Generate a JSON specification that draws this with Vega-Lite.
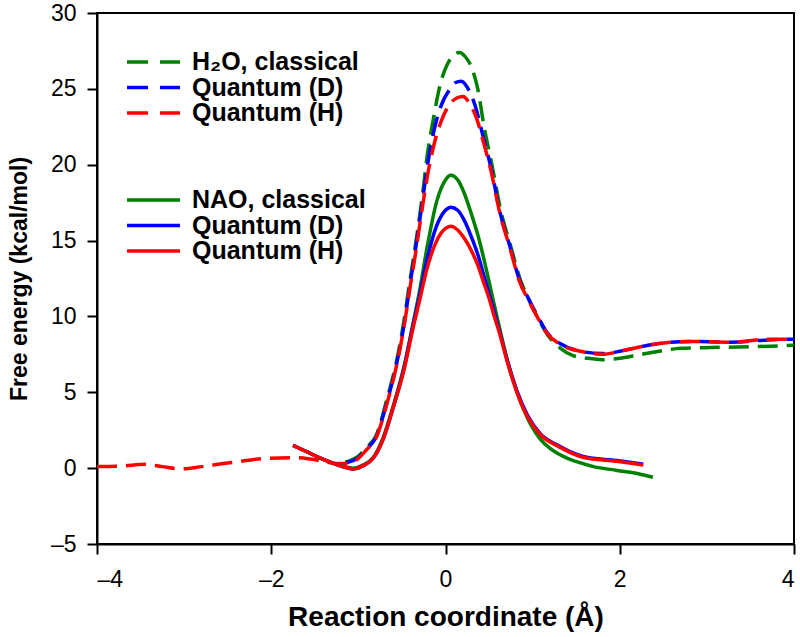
{
  "$schema": "https://vega.github.io/schema/vega-lite/v6.json",
  "width": 697,
  "height": 531,
  "autosize": "none",
  "padding": {"left": 97, "top": 13, "right": 6, "bottom": 93},
  "background": "white",
  "config": {
    "view": {"stroke": "black", "strokeWidth": 2},
    "font": "Liberation Sans",
    "axis": {
      "grid": false,
      "domainColor": "black",
      "domainWidth": 2,
      "tickColor": "black",
      "tickWidth": 2,
      "tickSize": 10,
      "labelFont": "Liberation Sans",
      "labelFontSize": 23,
      "labelColor": "black",
      "titleFont": "Liberation Sans",
      "titleFontWeight": "bold",
      "titleColor": "black"
    }
  },
  "data": {
    "values": [
      {"series": "H2O_C", "group": "H2O", "label": "H₂O, classical", "x": -1.15, "y": 0.4},
      {"series": "H2O_C", "group": "H2O", "label": "H₂O, classical", "x": -1.0, "y": 0.8},
      {"series": "H2O_C", "group": "H2O", "label": "H₂O, classical", "x": -0.9, "y": 1.4},
      {"series": "H2O_C", "group": "H2O", "label": "H₂O, classical", "x": -0.8, "y": 2.1},
      {"series": "H2O_C", "group": "H2O", "label": "H₂O, classical", "x": -0.67, "y": 4.6},
      {"series": "H2O_C", "group": "H2O", "label": "H₂O, classical", "x": -0.56, "y": 7.1},
      {"series": "H2O_C", "group": "H2O", "label": "H₂O, classical", "x": -0.48, "y": 9.6},
      {"series": "H2O_C", "group": "H2O", "label": "H₂O, classical", "x": -0.41, "y": 12.3},
      {"series": "H2O_C", "group": "H2O", "label": "H₂O, classical", "x": -0.34, "y": 14.9},
      {"series": "H2O_C", "group": "H2O", "label": "H₂O, classical", "x": -0.26, "y": 18.2},
      {"series": "H2O_C", "group": "H2O", "label": "H₂O, classical", "x": -0.21, "y": 20.6},
      {"series": "H2O_C", "group": "H2O", "label": "H₂O, classical", "x": -0.14, "y": 23.0},
      {"series": "H2O_C", "group": "H2O", "label": "H₂O, classical", "x": -0.06, "y": 25.3},
      {"series": "H2O_C", "group": "H2O", "label": "H₂O, classical", "x": 0.02, "y": 26.6},
      {"series": "H2O_C", "group": "H2O", "label": "H₂O, classical", "x": 0.09, "y": 27.2},
      {"series": "H2O_C", "group": "H2O", "label": "H₂O, classical", "x": 0.16, "y": 27.4},
      {"series": "H2O_C", "group": "H2O", "label": "H₂O, classical", "x": 0.23, "y": 27.1},
      {"series": "H2O_C", "group": "H2O", "label": "H₂O, classical", "x": 0.3, "y": 26.4},
      {"series": "H2O_C", "group": "H2O", "label": "H₂O, classical", "x": 0.37, "y": 25.0},
      {"series": "H2O_C", "group": "H2O", "label": "H₂O, classical", "x": 0.44, "y": 22.6},
      {"series": "H2O_C", "group": "H2O", "label": "H₂O, classical", "x": 0.54, "y": 19.8},
      {"series": "H2O_C", "group": "H2O", "label": "H₂O, classical", "x": 0.63, "y": 17.1},
      {"series": "H2O_C", "group": "H2O", "label": "H₂O, classical", "x": 0.75, "y": 14.6},
      {"series": "H2O_C", "group": "H2O", "label": "H₂O, classical", "x": 0.86, "y": 12.4},
      {"series": "H2O_C", "group": "H2O", "label": "H₂O, classical", "x": 0.95, "y": 11.2},
      {"series": "H2O_C", "group": "H2O", "label": "H₂O, classical", "x": 1.05, "y": 10.0},
      {"series": "H2O_C", "group": "H2O", "label": "H₂O, classical", "x": 1.17, "y": 8.8},
      {"series": "H2O_C", "group": "H2O", "label": "H₂O, classical", "x": 1.32, "y": 7.9},
      {"series": "H2O_C", "group": "H2O", "label": "H₂O, classical", "x": 1.47, "y": 7.4},
      {"series": "H2O_C", "group": "H2O", "label": "H₂O, classical", "x": 1.62, "y": 7.25},
      {"series": "H2O_C", "group": "H2O", "label": "H₂O, classical", "x": 1.8, "y": 7.15},
      {"series": "H2O_C", "group": "H2O", "label": "H₂O, classical", "x": 2.0, "y": 7.25},
      {"series": "H2O_C", "group": "H2O", "label": "H₂O, classical", "x": 2.2, "y": 7.45},
      {"series": "H2O_C", "group": "H2O", "label": "H₂O, classical", "x": 2.45, "y": 7.7},
      {"series": "H2O_C", "group": "H2O", "label": "H₂O, classical", "x": 2.7, "y": 7.9},
      {"series": "H2O_C", "group": "H2O", "label": "H₂O, classical", "x": 3.05, "y": 7.95},
      {"series": "H2O_C", "group": "H2O", "label": "H₂O, classical", "x": 3.5, "y": 8.0},
      {"series": "H2O_C", "group": "H2O", "label": "H₂O, classical", "x": 4.0, "y": 8.1},

      {"series": "H2O_D", "group": "H2O", "label": "Quantum (D)", "x": -1.15, "y": 0.35},
      {"series": "H2O_D", "group": "H2O", "label": "Quantum (D)", "x": -1.0, "y": 0.7},
      {"series": "H2O_D", "group": "H2O", "label": "Quantum (D)", "x": -0.9, "y": 1.3},
      {"series": "H2O_D", "group": "H2O", "label": "Quantum (D)", "x": -0.8, "y": 2.0},
      {"series": "H2O_D", "group": "H2O", "label": "Quantum (D)", "x": -0.67, "y": 4.4},
      {"series": "H2O_D", "group": "H2O", "label": "Quantum (D)", "x": -0.56, "y": 6.9},
      {"series": "H2O_D", "group": "H2O", "label": "Quantum (D)", "x": -0.48, "y": 9.3},
      {"series": "H2O_D", "group": "H2O", "label": "Quantum (D)", "x": -0.41, "y": 12.0},
      {"series": "H2O_D", "group": "H2O", "label": "Quantum (D)", "x": -0.34, "y": 14.6},
      {"series": "H2O_D", "group": "H2O", "label": "Quantum (D)", "x": -0.26, "y": 17.8},
      {"series": "H2O_D", "group": "H2O", "label": "Quantum (D)", "x": -0.2, "y": 20.2},
      {"series": "H2O_D", "group": "H2O", "label": "Quantum (D)", "x": -0.13, "y": 22.3},
      {"series": "H2O_D", "group": "H2O", "label": "Quantum (D)", "x": -0.05, "y": 23.9},
      {"series": "H2O_D", "group": "H2O", "label": "Quantum (D)", "x": 0.04, "y": 24.9},
      {"series": "H2O_D", "group": "H2O", "label": "Quantum (D)", "x": 0.11, "y": 25.4},
      {"series": "H2O_D", "group": "H2O", "label": "Quantum (D)", "x": 0.18, "y": 25.5},
      {"series": "H2O_D", "group": "H2O", "label": "Quantum (D)", "x": 0.26, "y": 25.0},
      {"series": "H2O_D", "group": "H2O", "label": "Quantum (D)", "x": 0.34, "y": 23.9},
      {"series": "H2O_D", "group": "H2O", "label": "Quantum (D)", "x": 0.43, "y": 21.9},
      {"series": "H2O_D", "group": "H2O", "label": "Quantum (D)", "x": 0.53, "y": 19.6},
      {"series": "H2O_D", "group": "H2O", "label": "Quantum (D)", "x": 0.62, "y": 17.0},
      {"series": "H2O_D", "group": "H2O", "label": "Quantum (D)", "x": 0.74, "y": 14.6},
      {"series": "H2O_D", "group": "H2O", "label": "Quantum (D)", "x": 0.85, "y": 12.4},
      {"series": "H2O_D", "group": "H2O", "label": "Quantum (D)", "x": 0.95, "y": 11.2},
      {"series": "H2O_D", "group": "H2O", "label": "Quantum (D)", "x": 1.05, "y": 10.1},
      {"series": "H2O_D", "group": "H2O", "label": "Quantum (D)", "x": 1.17, "y": 8.9},
      {"series": "H2O_D", "group": "H2O", "label": "Quantum (D)", "x": 1.32, "y": 8.2},
      {"series": "H2O_D", "group": "H2O", "label": "Quantum (D)", "x": 1.55, "y": 7.7},
      {"series": "H2O_D", "group": "H2O", "label": "Quantum (D)", "x": 1.8, "y": 7.55},
      {"series": "H2O_D", "group": "H2O", "label": "Quantum (D)", "x": 2.0, "y": 7.7},
      {"series": "H2O_D", "group": "H2O", "label": "Quantum (D)", "x": 2.2, "y": 7.95},
      {"series": "H2O_D", "group": "H2O", "label": "Quantum (D)", "x": 2.43, "y": 8.2},
      {"series": "H2O_D", "group": "H2O", "label": "Quantum (D)", "x": 2.8, "y": 8.35},
      {"series": "H2O_D", "group": "H2O", "label": "Quantum (D)", "x": 3.27, "y": 8.3},
      {"series": "H2O_D", "group": "H2O", "label": "Quantum (D)", "x": 3.7, "y": 8.45},
      {"series": "H2O_D", "group": "H2O", "label": "Quantum (D)", "x": 4.0, "y": 8.5},

      {"series": "H2O_H", "group": "H2O", "label": "Quantum (H)", "x": -4.0, "y": 0.1},
      {"series": "H2O_H", "group": "H2O", "label": "Quantum (H)", "x": -3.7, "y": 0.15},
      {"series": "H2O_H", "group": "H2O", "label": "Quantum (H)", "x": -3.45, "y": 0.25},
      {"series": "H2O_H", "group": "H2O", "label": "Quantum (H)", "x": -3.25, "y": 0.1},
      {"series": "H2O_H", "group": "H2O", "label": "Quantum (H)", "x": -3.05, "y": -0.05},
      {"series": "H2O_H", "group": "H2O", "label": "Quantum (H)", "x": -2.8, "y": 0.1},
      {"series": "H2O_H", "group": "H2O", "label": "Quantum (H)", "x": -2.55, "y": 0.3},
      {"series": "H2O_H", "group": "H2O", "label": "Quantum (H)", "x": -2.35, "y": 0.45},
      {"series": "H2O_H", "group": "H2O", "label": "Quantum (H)", "x": -2.05, "y": 0.65},
      {"series": "H2O_H", "group": "H2O", "label": "Quantum (H)", "x": -1.7, "y": 0.68},
      {"series": "H2O_H", "group": "H2O", "label": "Quantum (H)", "x": -1.55, "y": 0.6},
      {"series": "H2O_H", "group": "H2O", "label": "Quantum (H)", "x": -1.4, "y": 0.45},
      {"series": "H2O_H", "group": "H2O", "label": "Quantum (H)", "x": -1.25, "y": 0.3},
      {"series": "H2O_H", "group": "H2O", "label": "Quantum (H)", "x": -1.12, "y": 0.3},
      {"series": "H2O_H", "group": "H2O", "label": "Quantum (H)", "x": -1.0, "y": 0.65},
      {"series": "H2O_H", "group": "H2O", "label": "Quantum (H)", "x": -0.9, "y": 1.25},
      {"series": "H2O_H", "group": "H2O", "label": "Quantum (H)", "x": -0.8, "y": 1.95},
      {"series": "H2O_H", "group": "H2O", "label": "Quantum (H)", "x": -0.67, "y": 4.3},
      {"series": "H2O_H", "group": "H2O", "label": "Quantum (H)", "x": -0.56, "y": 6.8},
      {"series": "H2O_H", "group": "H2O", "label": "Quantum (H)", "x": -0.48, "y": 9.2},
      {"series": "H2O_H", "group": "H2O", "label": "Quantum (H)", "x": -0.41, "y": 11.8},
      {"series": "H2O_H", "group": "H2O", "label": "Quantum (H)", "x": -0.34, "y": 14.3},
      {"series": "H2O_H", "group": "H2O", "label": "Quantum (H)", "x": -0.26, "y": 17.4},
      {"series": "H2O_H", "group": "H2O", "label": "Quantum (H)", "x": -0.19, "y": 19.8},
      {"series": "H2O_H", "group": "H2O", "label": "Quantum (H)", "x": -0.12, "y": 21.6},
      {"series": "H2O_H", "group": "H2O", "label": "Quantum (H)", "x": -0.04, "y": 23.0},
      {"series": "H2O_H", "group": "H2O", "label": "Quantum (H)", "x": 0.05, "y": 24.0},
      {"series": "H2O_H", "group": "H2O", "label": "Quantum (H)", "x": 0.13, "y": 24.4},
      {"series": "H2O_H", "group": "H2O", "label": "Quantum (H)", "x": 0.2, "y": 24.5},
      {"series": "H2O_H", "group": "H2O", "label": "Quantum (H)", "x": 0.28, "y": 24.0},
      {"series": "H2O_H", "group": "H2O", "label": "Quantum (H)", "x": 0.36, "y": 23.0},
      {"series": "H2O_H", "group": "H2O", "label": "Quantum (H)", "x": 0.44, "y": 21.4},
      {"series": "H2O_H", "group": "H2O", "label": "Quantum (H)", "x": 0.53, "y": 19.4},
      {"series": "H2O_H", "group": "H2O", "label": "Quantum (H)", "x": 0.62, "y": 16.9},
      {"series": "H2O_H", "group": "H2O", "label": "Quantum (H)", "x": 0.74, "y": 14.5},
      {"series": "H2O_H", "group": "H2O", "label": "Quantum (H)", "x": 0.85, "y": 12.3},
      {"series": "H2O_H", "group": "H2O", "label": "Quantum (H)", "x": 0.95, "y": 11.1},
      {"series": "H2O_H", "group": "H2O", "label": "Quantum (H)", "x": 1.05, "y": 10.0},
      {"series": "H2O_H", "group": "H2O", "label": "Quantum (H)", "x": 1.17, "y": 8.85},
      {"series": "H2O_H", "group": "H2O", "label": "Quantum (H)", "x": 1.32, "y": 8.15},
      {"series": "H2O_H", "group": "H2O", "label": "Quantum (H)", "x": 1.55, "y": 7.7},
      {"series": "H2O_H", "group": "H2O", "label": "Quantum (H)", "x": 1.8, "y": 7.5},
      {"series": "H2O_H", "group": "H2O", "label": "Quantum (H)", "x": 2.0, "y": 7.7},
      {"series": "H2O_H", "group": "H2O", "label": "Quantum (H)", "x": 2.2, "y": 7.95},
      {"series": "H2O_H", "group": "H2O", "label": "Quantum (H)", "x": 2.43, "y": 8.2},
      {"series": "H2O_H", "group": "H2O", "label": "Quantum (H)", "x": 2.8, "y": 8.35},
      {"series": "H2O_H", "group": "H2O", "label": "Quantum (H)", "x": 3.27, "y": 8.3},
      {"series": "H2O_H", "group": "H2O", "label": "Quantum (H)", "x": 3.7, "y": 8.5},
      {"series": "H2O_H", "group": "H2O", "label": "Quantum (H)", "x": 4.0, "y": 8.5},

      {"series": "NAO_C", "group": "NAO", "label": "NAO, classical", "x": -1.75, "y": 1.5},
      {"series": "NAO_C", "group": "NAO", "label": "NAO, classical", "x": -1.6, "y": 1.1},
      {"series": "NAO_C", "group": "NAO", "label": "NAO, classical", "x": -1.45, "y": 0.7},
      {"series": "NAO_C", "group": "NAO", "label": "NAO, classical", "x": -1.3, "y": 0.35},
      {"series": "NAO_C", "group": "NAO", "label": "NAO, classical", "x": -1.15, "y": 0.1},
      {"series": "NAO_C", "group": "NAO", "label": "NAO, classical", "x": -1.06, "y": 0.0},
      {"series": "NAO_C", "group": "NAO", "label": "NAO, classical", "x": -0.95, "y": 0.2},
      {"series": "NAO_C", "group": "NAO", "label": "NAO, classical", "x": -0.83, "y": 0.7},
      {"series": "NAO_C", "group": "NAO", "label": "NAO, classical", "x": -0.71, "y": 2.1},
      {"series": "NAO_C", "group": "NAO", "label": "NAO, classical", "x": -0.6, "y": 4.1},
      {"series": "NAO_C", "group": "NAO", "label": "NAO, classical", "x": -0.48, "y": 6.6},
      {"series": "NAO_C", "group": "NAO", "label": "NAO, classical", "x": -0.37, "y": 9.6},
      {"series": "NAO_C", "group": "NAO", "label": "NAO, classical", "x": -0.3, "y": 11.6},
      {"series": "NAO_C", "group": "NAO", "label": "NAO, classical", "x": -0.21, "y": 14.6},
      {"series": "NAO_C", "group": "NAO", "label": "NAO, classical", "x": -0.1, "y": 17.6},
      {"series": "NAO_C", "group": "NAO", "label": "NAO, classical", "x": 0.0, "y": 19.0},
      {"series": "NAO_C", "group": "NAO", "label": "NAO, classical", "x": 0.06, "y": 19.3},
      {"series": "NAO_C", "group": "NAO", "label": "NAO, classical", "x": 0.14, "y": 19.0},
      {"series": "NAO_C", "group": "NAO", "label": "NAO, classical", "x": 0.21, "y": 18.2},
      {"series": "NAO_C", "group": "NAO", "label": "NAO, classical", "x": 0.3, "y": 16.7},
      {"series": "NAO_C", "group": "NAO", "label": "NAO, classical", "x": 0.37, "y": 15.4},
      {"series": "NAO_C", "group": "NAO", "label": "NAO, classical", "x": 0.44, "y": 13.8},
      {"series": "NAO_C", "group": "NAO", "label": "NAO, classical", "x": 0.5, "y": 12.3},
      {"series": "NAO_C", "group": "NAO", "label": "NAO, classical", "x": 0.55, "y": 11.0},
      {"series": "NAO_C", "group": "NAO", "label": "NAO, classical", "x": 0.63, "y": 9.0},
      {"series": "NAO_C", "group": "NAO", "label": "NAO, classical", "x": 0.71, "y": 7.1},
      {"series": "NAO_C", "group": "NAO", "label": "NAO, classical", "x": 0.82, "y": 5.0},
      {"series": "NAO_C", "group": "NAO", "label": "NAO, classical", "x": 0.94, "y": 3.3},
      {"series": "NAO_C", "group": "NAO", "label": "NAO, classical", "x": 1.09, "y": 1.9},
      {"series": "NAO_C", "group": "NAO", "label": "NAO, classical", "x": 1.2, "y": 1.3},
      {"series": "NAO_C", "group": "NAO", "label": "NAO, classical", "x": 1.4, "y": 0.65},
      {"series": "NAO_C", "group": "NAO", "label": "NAO, classical", "x": 1.55, "y": 0.35},
      {"series": "NAO_C", "group": "NAO", "label": "NAO, classical", "x": 1.7, "y": 0.1},
      {"series": "NAO_C", "group": "NAO", "label": "NAO, classical", "x": 1.97, "y": -0.15},
      {"series": "NAO_C", "group": "NAO", "label": "NAO, classical", "x": 2.2, "y": -0.35},
      {"series": "NAO_C", "group": "NAO", "label": "NAO, classical", "x": 2.38, "y": -0.6},

      {"series": "NAO_D", "group": "NAO", "label": "Quantum (D)", "x": -1.75, "y": 1.5},
      {"series": "NAO_D", "group": "NAO", "label": "Quantum (D)", "x": -1.6, "y": 1.1},
      {"series": "NAO_D", "group": "NAO", "label": "Quantum (D)", "x": -1.45, "y": 0.7},
      {"series": "NAO_D", "group": "NAO", "label": "Quantum (D)", "x": -1.3, "y": 0.35},
      {"series": "NAO_D", "group": "NAO", "label": "Quantum (D)", "x": -1.15, "y": 0.05},
      {"series": "NAO_D", "group": "NAO", "label": "Quantum (D)", "x": -1.06, "y": -0.05},
      {"series": "NAO_D", "group": "NAO", "label": "Quantum (D)", "x": -0.95, "y": 0.15},
      {"series": "NAO_D", "group": "NAO", "label": "Quantum (D)", "x": -0.83, "y": 0.65},
      {"series": "NAO_D", "group": "NAO", "label": "Quantum (D)", "x": -0.71, "y": 2.0},
      {"series": "NAO_D", "group": "NAO", "label": "Quantum (D)", "x": -0.6, "y": 4.0},
      {"series": "NAO_D", "group": "NAO", "label": "Quantum (D)", "x": -0.48, "y": 6.5},
      {"series": "NAO_D", "group": "NAO", "label": "Quantum (D)", "x": -0.37, "y": 9.5},
      {"series": "NAO_D", "group": "NAO", "label": "Quantum (D)", "x": -0.3, "y": 11.3},
      {"series": "NAO_D", "group": "NAO", "label": "Quantum (D)", "x": -0.21, "y": 13.8},
      {"series": "NAO_D", "group": "NAO", "label": "Quantum (D)", "x": -0.1, "y": 16.0},
      {"series": "NAO_D", "group": "NAO", "label": "Quantum (D)", "x": 0.0, "y": 17.0},
      {"series": "NAO_D", "group": "NAO", "label": "Quantum (D)", "x": 0.06, "y": 17.2},
      {"series": "NAO_D", "group": "NAO", "label": "Quantum (D)", "x": 0.14, "y": 17.0},
      {"series": "NAO_D", "group": "NAO", "label": "Quantum (D)", "x": 0.21, "y": 16.4},
      {"series": "NAO_D", "group": "NAO", "label": "Quantum (D)", "x": 0.3, "y": 15.2},
      {"series": "NAO_D", "group": "NAO", "label": "Quantum (D)", "x": 0.37, "y": 14.1},
      {"series": "NAO_D", "group": "NAO", "label": "Quantum (D)", "x": 0.44, "y": 12.7},
      {"series": "NAO_D", "group": "NAO", "label": "Quantum (D)", "x": 0.5, "y": 11.5},
      {"series": "NAO_D", "group": "NAO", "label": "Quantum (D)", "x": 0.55, "y": 10.5},
      {"series": "NAO_D", "group": "NAO", "label": "Quantum (D)", "x": 0.63, "y": 8.8},
      {"series": "NAO_D", "group": "NAO", "label": "Quantum (D)", "x": 0.71, "y": 7.1},
      {"series": "NAO_D", "group": "NAO", "label": "Quantum (D)", "x": 0.82, "y": 5.1},
      {"series": "NAO_D", "group": "NAO", "label": "Quantum (D)", "x": 0.94, "y": 3.5},
      {"series": "NAO_D", "group": "NAO", "label": "Quantum (D)", "x": 1.09, "y": 2.25},
      {"series": "NAO_D", "group": "NAO", "label": "Quantum (D)", "x": 1.29, "y": 1.5},
      {"series": "NAO_D", "group": "NAO", "label": "Quantum (D)", "x": 1.59, "y": 0.75},
      {"series": "NAO_D", "group": "NAO", "label": "Quantum (D)", "x": 1.97, "y": 0.5},
      {"series": "NAO_D", "group": "NAO", "label": "Quantum (D)", "x": 2.27, "y": 0.25},

      {"series": "NAO_H", "group": "NAO", "label": "Quantum (H)", "x": -1.75, "y": 1.5},
      {"series": "NAO_H", "group": "NAO", "label": "Quantum (H)", "x": -1.6, "y": 1.1},
      {"series": "NAO_H", "group": "NAO", "label": "Quantum (H)", "x": -1.45, "y": 0.7},
      {"series": "NAO_H", "group": "NAO", "label": "Quantum (H)", "x": -1.3, "y": 0.35},
      {"series": "NAO_H", "group": "NAO", "label": "Quantum (H)", "x": -1.15, "y": 0.05},
      {"series": "NAO_H", "group": "NAO", "label": "Quantum (H)", "x": -1.06, "y": -0.05},
      {"series": "NAO_H", "group": "NAO", "label": "Quantum (H)", "x": -0.95, "y": 0.15},
      {"series": "NAO_H", "group": "NAO", "label": "Quantum (H)", "x": -0.83, "y": 0.65},
      {"series": "NAO_H", "group": "NAO", "label": "Quantum (H)", "x": -0.71, "y": 2.0},
      {"series": "NAO_H", "group": "NAO", "label": "Quantum (H)", "x": -0.6, "y": 4.0},
      {"series": "NAO_H", "group": "NAO", "label": "Quantum (H)", "x": -0.48, "y": 6.4},
      {"series": "NAO_H", "group": "NAO", "label": "Quantum (H)", "x": -0.37, "y": 9.3},
      {"series": "NAO_H", "group": "NAO", "label": "Quantum (H)", "x": -0.3, "y": 11.0},
      {"series": "NAO_H", "group": "NAO", "label": "Quantum (H)", "x": -0.21, "y": 13.2},
      {"series": "NAO_H", "group": "NAO", "label": "Quantum (H)", "x": -0.1, "y": 15.0},
      {"series": "NAO_H", "group": "NAO", "label": "Quantum (H)", "x": 0.0, "y": 15.8},
      {"series": "NAO_H", "group": "NAO", "label": "Quantum (H)", "x": 0.06, "y": 15.95},
      {"series": "NAO_H", "group": "NAO", "label": "Quantum (H)", "x": 0.14, "y": 15.7},
      {"series": "NAO_H", "group": "NAO", "label": "Quantum (H)", "x": 0.21, "y": 15.2},
      {"series": "NAO_H", "group": "NAO", "label": "Quantum (H)", "x": 0.3, "y": 14.3},
      {"series": "NAO_H", "group": "NAO", "label": "Quantum (H)", "x": 0.37, "y": 13.4},
      {"series": "NAO_H", "group": "NAO", "label": "Quantum (H)", "x": 0.44, "y": 12.2},
      {"series": "NAO_H", "group": "NAO", "label": "Quantum (H)", "x": 0.5, "y": 11.2},
      {"series": "NAO_H", "group": "NAO", "label": "Quantum (H)", "x": 0.55, "y": 10.2},
      {"series": "NAO_H", "group": "NAO", "label": "Quantum (H)", "x": 0.63, "y": 8.7},
      {"series": "NAO_H", "group": "NAO", "label": "Quantum (H)", "x": 0.71, "y": 7.0},
      {"series": "NAO_H", "group": "NAO", "label": "Quantum (H)", "x": 0.82, "y": 5.0},
      {"series": "NAO_H", "group": "NAO", "label": "Quantum (H)", "x": 0.94, "y": 3.4},
      {"series": "NAO_H", "group": "NAO", "label": "Quantum (H)", "x": 1.09, "y": 2.2},
      {"series": "NAO_H", "group": "NAO", "label": "Quantum (H)", "x": 1.29, "y": 1.45},
      {"series": "NAO_H", "group": "NAO", "label": "Quantum (H)", "x": 1.59, "y": 0.7},
      {"series": "NAO_H", "group": "NAO", "label": "Quantum (H)", "x": 1.97, "y": 0.45},
      {"series": "NAO_H", "group": "NAO", "label": "Quantum (H)", "x": 2.27, "y": 0.2}
    ]
  },
  "layer": [
    {
      "transform": [{"filter": "datum.group === 'H2O'"}],
      "mark": {"type": "line", "strokeWidth": 3.5, "strokeDash": [20, 9], "interpolate": "monotone"},
      "encoding": {
        "x": {
          "field": "x", "type": "quantitative",
          "scale": {"domain": [-4, 4], "nice": false, "zero": false},
          "axis": {"values": [-4, -2, 0, 2, 4], "title": "Reaction coordinate (Å)", "titleFontSize": 28, "labelPadding": 14, "titlePadding": 12,
                   "labelExpr": "datum.value < 0 ? '–' + abs(datum.value) : format(datum.value, 'd')"}
        },
        "y": {
          "field": "y", "type": "quantitative",
          "scale": {"domain": [-5, 30], "nice": false, "zero": false},
          "axis": {"values": [-5, 0, 5, 10, 15, 20, 25, 30], "title": "Free energy (kcal/mol)", "titleFontSize": 23, "labelPadding": 11, "titlePadding": 19,
                   "labelExpr": "datum.value < 0 ? '–' + abs(datum.value) : format(datum.value, 'd')"}
        },
        "detail": {"field": "series"},
        "color": {
          "field": "label", "type": "nominal",
          "scale": {"domain": ["H₂O, classical", "Quantum (D)", "Quantum (H)"], "range": ["#008000", "#0000ff", "#ff0000"]},
          "legend": {
            "orient": "none", "legendX": 28, "legendY": 39, "title": null,
            "symbolType": "stroke", "symbolSize": 2800, "symbolStrokeWidth": 3.5, "symbolDash": [21, 12],
            "labelFont": "Liberation Sans", "labelFontSize": 25, "labelFontWeight": "bold", "labelColor": "black",
            "labelOffset": 10, "labelLimit": 400, "clipHeight": 20, "rowPadding": 0.5
          }
        }
      }
    },
    {
      "transform": [{"filter": "datum.group === 'NAO'"}],
      "mark": {"type": "line", "strokeWidth": 3.5, "interpolate": "monotone"},
      "encoding": {
        "x": {"field": "x", "type": "quantitative"},
        "y": {"field": "y", "type": "quantitative"},
        "detail": {"field": "series"},
        "color": {
          "field": "label", "type": "nominal",
          "scale": {"domain": ["NAO, classical", "Quantum (D)", "Quantum (H)"], "range": ["#008000", "#0000ff", "#ff0000"]},
          "legend": {
            "orient": "none", "legendX": 28, "legendY": 177, "title": null,
            "symbolType": "stroke", "symbolSize": 2800, "symbolStrokeWidth": 3.5,
            "labelFont": "Liberation Sans", "labelFontSize": 25, "labelFontWeight": "bold", "labelColor": "black",
            "labelOffset": 10, "labelLimit": 400, "clipHeight": 20, "rowPadding": 0.5
          }
        }
      }
    }
  ],
  "resolve": {"scale": {"color": "independent"}, "legend": {"color": "independent"}}
}
